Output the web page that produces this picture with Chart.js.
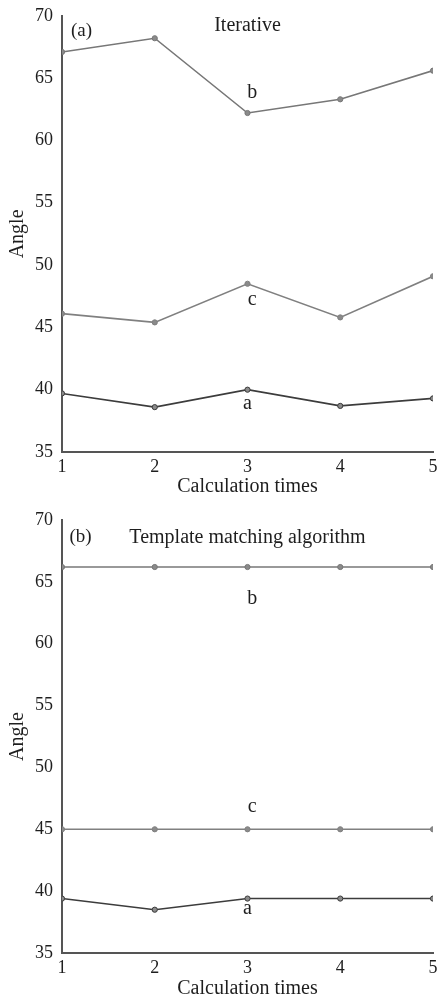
<!DOCTYPE html>
<html lang="en">
<head>
    <meta charset="UTF-8">
    <title>Iterative vs Template matching</title>
    <script src="https://cdn.jsdelivr.net/npm/chart.js@4.4.0/dist/chart.umd.min.js"></script>
    <style>
        body { margin: 0; background: #fff; }
        .box { width: 438px; height: 499px; }
    </style>
</head>
<body>
    <div class="box"><canvas id="chartA" width="438" height="499"></canvas></div>
    <div class="box"><canvas id="chartB" width="438" height="499"></canvas></div>

    <script>
        // calculation times
        const times = [1, 2, 3, 4, 5];
        const yTicks = [35, 40, 45, 50, 55, 60, 65, 70];

        // (a) Iterative
        const iterA = [39.7, 38.6, 40.0, 38.7, 39.3];
        const iterB = [67.1, 68.2, 62.2, 63.3, 65.6];
        const iterC = [46.1, 45.4, 48.5, 45.8, 49.1];

        // (b) Template matching algorithm
        const tmplA = [39.4, 38.5, 39.4, 39.4, 39.4];
        const tmplB = [66.2, 66.2, 66.2, 66.2, 66.2];
        const tmplC = [45.0, 45.0, 45.0, 45.0, 45.0];

        const serif = '"Liberation Serif", "DejaVu Serif", serif';
        const axisColor = '#555';

        function pts(vals) {
            return vals.map((v, i) => ({ x: times[i], y: v }));
        }

        // draws the in-plot text (panel tag, title, curve letters)
        const textPlugin = {
            id: 'plotText',
            afterDatasetsDraw(chart, args, opts) {
                const ctx = chart.ctx;
                const xs = chart.scales.x, ys = chart.scales.y;
                ctx.save();
                ctx.fillStyle = '#1e1e1e';
                ctx.textAlign = 'center';
                ctx.textBaseline = 'middle';
                opts.items.forEach(t => {
                    ctx.font = (t.size || 20) + 'px ' + serif;
                    ctx.fillText(t.text, xs.getPixelForValue(t.x), ys.getPixelForValue(t.y));
                });
                ctx.restore();
            }
        };

        function makeChart(id, series, items, top, axisH, titlePad) {
            const colors = ['#3c3c3c', '#777', '#808080'];
            return new Chart(document.getElementById(id), {
                type: 'line',
                data: {
                    datasets: series.map((s, i) => ({
                        data: pts(s),
                        borderColor: colors[i],
                        borderWidth: 1.6,
                        pointRadius: 2.6,
                        pointBackgroundColor: '#8a8a8a',
                        pointBorderColor: colors[i],
                        pointBorderWidth: 1,
                        tension: 0
                    }))
                },
                options: {
                    responsive: false,
                    animation: false,
                    layout: { padding: { top: top, right: 3, left: 0, bottom: 0 } },
                    plugins: {
                        legend: { display: false },
                        tooltip: { enabled: false },
                        plotText: { items: items }
                    },
                    scales: {
                        x: {
                            type: 'linear',
                            min: 1, max: 5,
                            afterBuildTicks: s => { s.ticks = times.map(v => ({ value: v })); },
                            grid: { display: false, drawTicks: true, tickLength: 4, color: axisColor },
                            border: { color: axisColor, width: 2 },
                            ticks: { color: '#1e1e1e', font: { family: serif, size: 18 }, padding: 0 },
                            title: { display: true, text: 'Calculation times', color: '#1e1e1e',
                                     font: { family: serif, size: 20 }, padding: { top: 0, bottom: titlePad } },
                            afterFit: s => { s.height = axisH; }
                        },
                        y: {
                            min: 35, max: 70,
                            afterBuildTicks: s => { s.ticks = yTicks.map(v => ({ value: v })); },
                            grid: { display: false, drawTicks: true, tickLength: 4, color: axisColor },
                            border: { color: axisColor, width: 2 },
                            ticks: { color: '#1e1e1e', font: { family: serif, size: 18 }, padding: 5 },
                            title: { display: true, text: 'Angle', color: '#1e1e1e',
                                     font: { family: serif, size: 20 }, padding: { top: 6, bottom: 0 } },
                            afterFit: s => { s.width = 62; }
                        }
                    }
                },
                plugins: [textPlugin]
            });
        }

        makeChart('chartA', [iterA, iterB, iterC], [
            { text: '(a)', x: 1.21, y: 68.8, size: 19 },
            { text: 'Iterative', x: 3.0, y: 69.2 },
            { text: 'b', x: 3.05, y: 63.8 },
            { text: 'c', x: 3.05, y: 47.2 },
            { text: 'a', x: 3.0, y: 38.9 }
        ], 15, 47, 0);

        makeChart('chartB', [tmplA, tmplB, tmplC], [
            { text: '(b)', x: 1.2, y: 68.6, size: 19 },
            { text: 'Template matching algorithm', x: 3.0, y: 68.6 },
            { text: 'b', x: 3.05, y: 63.6 },
            { text: 'c', x: 3.05, y: 46.8 },
            { text: 'a', x: 3.0, y: 38.6 }
        ], 21, 45, -3);
    </script>
</body>
</html>
